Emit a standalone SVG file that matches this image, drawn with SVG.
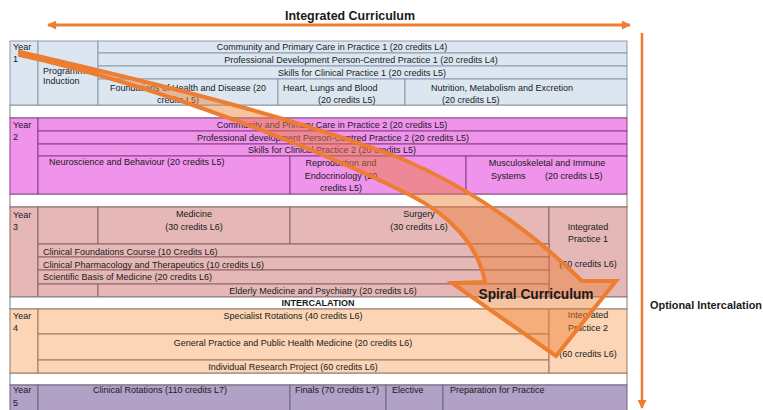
<svg xmlns="http://www.w3.org/2000/svg" width="763" height="410" viewBox="0 0 763 410">
<defs>
<style>
.t{font-family:"Liberation Sans",Arial,sans-serif;font-size:9px;fill:#1a1a1a}
.c{text-anchor:middle}
.b{font-weight:bold}
.y1{fill:#DCE6F1;stroke:#8C9AAE;stroke-width:1}
.y2{fill:#EF93EB;stroke:#8A4187;stroke-width:1}
.y3{fill:#E5B8B7;stroke:#8E6665;stroke-width:1}
.y4{fill:#FBD5B5;stroke:#9A7A62;stroke-width:1}
.y5{fill:#B2A1C7;stroke:#6E6480;stroke-width:1}
.w{fill:#FFFFFF;stroke:#7F7F7F;stroke-width:1}
.or{stroke:#ED7D31;fill:none}
</style>
<marker id="ah" viewBox="0 0 10 10" refX="9" refY="5" markerWidth="11" markerHeight="9" markerUnits="userSpaceOnUse" orient="auto-start-reverse">
<path d="M0,0 L10,5 L0,10 Z" fill="#ED7D31"/>
</marker>
</defs>
<rect width="763" height="410" fill="#FFFFFF"/>

<g id="gaps">
<rect class="w" x="10" y="105" width="617" height="13"/>
<rect class="w" x="10" y="194" width="617" height="13"/>
<rect class="w" x="10" y="373" width="617" height="12"/>
</g>

<g id="year1">
<rect class="y1" x="10" y="41" width="28" height="64"/>
<rect class="y1" x="38" y="41" width="60" height="64"/>
<rect class="y1" x="98" y="41" width="529" height="12"/>
<rect class="y1" x="98" y="53" width="529" height="13"/>
<rect class="y1" x="98" y="66" width="529" height="13"/>
<rect class="y1" x="98" y="79" width="180" height="26"/>
<rect class="y1" x="278" y="79" width="127" height="26"/>
<rect class="y1" x="405" y="79" width="222" height="26"/>
<text class="t" x="13" y="50">Year</text>
<text class="t" x="13" y="62">1</text>
<text class="t" x="43" y="74">Programme</text>
<text class="t" x="43" y="84">Induction</text>
<text class="t c" x="332" y="50">Community and Primary Care in Practice 1 (20 credits L4)</text>
<text class="t c" x="361" y="63">Professional Development Person-Centred Practice 1 (20 credits L4)</text>
<text class="t c" x="362" y="76">Skills for Clinical Practice 1 (20 credits L5)</text>
<text class="t c" x="188" y="91">Foundations of Health and Disease (20</text>
<text class="t" x="157" y="103">credits L5)</text>
<text class="t" x="283" y="91">Heart, Lungs and Blood</text>
<text class="t" x="318" y="103">(20 credits L5)</text>
<text class="t" x="431" y="91">Nutrition, Metabolism and Excretion</text>
<text class="t" x="442" y="103">(20 credits L5)</text>
</g>

<g id="year2">
<rect class="y2" x="10" y="118" width="28" height="76"/>
<rect class="y2" x="38" y="118" width="589" height="13"/>
<rect class="y2" x="38" y="131" width="589" height="13"/>
<rect class="y2" x="38" y="144" width="589" height="12"/>
<rect class="y2" x="38" y="156" width="252" height="38"/>
<rect class="y2" x="290" y="156" width="176" height="38"/>
<rect class="y2" x="466" y="156" width="161" height="38"/>
<text class="t" x="13" y="128">Year</text>
<text class="t" x="13" y="140">2</text>
<text class="t c" x="332" y="128">Community and Primary Care in Practice 2 (20 credits L5)</text>
<text class="t c" x="333" y="141">Professional development Person-Centred Practice 2 (20 credits L5)</text>
<text class="t c" x="332" y="153">Skills for Clinical Practice 2 (20 credits L5)</text>
<text class="t" x="49" y="165">Neuroscience and Behaviour (20 credits L5)</text>
<text class="t c" x="341" y="166">Reproduction and</text>
<text class="t c" x="341" y="179">Endocrinology (20</text>
<text class="t c" x="341" y="191">credits L5)</text>
<text class="t c" x="547" y="166">Musculoskeletal and Immune</text>
<text class="t" x="491" y="179">Systems</text>
<text class="t" x="545" y="179">(20 credits L5)</text>
</g>

<g id="year3">
<rect class="y3" x="10" y="207" width="28" height="90"/>
<rect class="y3" x="38" y="207" width="60" height="37"/>
<rect class="y3" x="98" y="207" width="192" height="37"/>
<rect class="y3" x="290" y="207" width="259" height="37"/>
<rect class="y3" x="549" y="207" width="78" height="90"/>
<rect class="y3" x="38" y="244" width="511" height="13"/>
<rect class="y3" x="38" y="257" width="511" height="13"/>
<rect class="y3" x="38" y="270" width="511" height="14"/>
<rect class="y3" x="38" y="284" width="60" height="13"/>
<rect class="y3" x="98" y="284" width="451" height="13"/>
<text class="t" x="13" y="218">Year</text>
<text class="t" x="13" y="230">3</text>
<text class="t c" x="194" y="217">Medicine</text>
<text class="t c" x="194" y="230">(30 credits L6)</text>
<text class="t c" x="419" y="217">Surgery</text>
<text class="t c" x="419" y="230">(30 credits L6)</text>
<text class="t c" x="588" y="230">Integrated</text>
<text class="t c" x="588" y="242">Practice 1</text>
<text class="t c" x="588" y="267">(60 credits L6)</text>
<text class="t" x="43" y="255">Clinical Foundations Course (10 Credits L6)</text>
<text class="t" x="43" y="268">Clinical Pharmacology and Therapeutics (10 credits L6)</text>
<text class="t" x="43" y="280">Scientific Basis of Medicine (20 credits L6)</text>
<text class="t c" x="323" y="294">Elderly Medicine and Psychiatry (20 credits L6)</text>
</g>

<g id="intercalation">
<rect class="w" x="10" y="297" width="617" height="12"/>
<text class="t c b" x="318" y="306">INTERCALATION</text>
</g>

<g id="year4">
<rect class="y4" x="10" y="309" width="28" height="64"/>
<rect class="y4" x="38" y="309" width="511" height="25"/>
<rect class="y4" x="38" y="334" width="511" height="26"/>
<rect class="y4" x="38" y="360" width="511" height="13"/>
<rect class="y4" x="549" y="309" width="78" height="64"/>
<text class="t" x="13" y="319">Year</text>
<text class="t" x="13" y="331">4</text>
<text class="t c" x="293" y="319">Specialist Rotations (40 credits L6)</text>
<text class="t c" x="293" y="346">General Practice and Public Health Medicine (20 credits L6)</text>
<text class="t c" x="293" y="370">Individual Research Project (60 credits L6)</text>
<text class="t c" x="588" y="318">Integrated</text>
<text class="t c" x="588" y="331">Practice 2</text>
<text class="t c" x="588" y="357">(60 credits L6)</text>
</g>

<g id="year5">
<rect class="y5" x="10" y="385" width="28" height="30"/>
<rect class="y5" x="38" y="385" width="252" height="30"/>
<rect class="y5" x="290" y="385" width="96" height="30"/>
<rect class="y5" x="386" y="385" width="57" height="30"/>
<rect class="y5" x="443" y="385" width="184" height="30"/>
<text class="t" x="13" y="393">Year</text>
<text class="t" x="13" y="406">5</text>
<text class="t c" x="160" y="393">Clinical Rotations (110 credits L7)</text>
<text class="t c" x="337" y="393">Finals (70 credits L7)</text>
<text class="t" x="392" y="393">Elective</text>
<text class="t" x="450" y="393">Preparation for Practice</text>
</g>

<g id="connectors">
<line class="or" x1="48" y1="25" x2="630" y2="25" stroke-width="3" marker-start="url(#ah)" marker-end="url(#ah)"/>
<line class="or" x1="642" y1="33" x2="642" y2="408" stroke-width="2.5" marker-end="url(#ah)"/>
<path id="spiral" d="M20,52 C150,82 290,116 400,158 C480,192 540,240 582,281 L616,281 L556,356 L452,283 L485,282 C478,245 450,215 410,195 C320,150 160,86 20,55 Z" fill="#ED7D31" fill-opacity="0.45" stroke="#ED7D31" stroke-width="4" stroke-linejoin="miter"/>
</g>

<g id="labels">
<text class="t b" x="350" y="20" text-anchor="middle" style="font-size:12.5px" textLength="130" lengthAdjust="spacingAndGlyphs">Integrated Curriculum</text>
<text class="t b" x="536" y="299" text-anchor="middle" style="font-size:14px" textLength="115" lengthAdjust="spacingAndGlyphs">Spiral Curriculum</text>
<text class="t b" x="650" y="309" style="font-size:10px" textLength="112" lengthAdjust="spacingAndGlyphs">Optional Intercalation</text>
</g>
</svg>
